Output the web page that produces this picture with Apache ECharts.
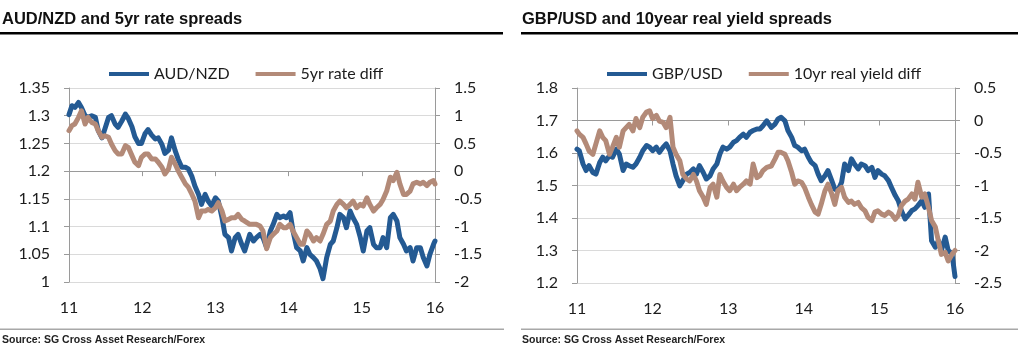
<!DOCTYPE html>
<html>
<head>
<meta charset="utf-8">
<script src="https://cdn.jsdelivr.net/npm/echarts@6/dist/echarts.min.js"></script>
<style>
html,body{margin:0;padding:0;background:#fff;}
#c{width:1027px;height:360px;}
</style>
</head>
<body>
<div id="c"></div>
<script>
// ---------- Left chart: AUD/NZD and 5yr rate spreads (x in years, 11 = 2011) ----------
const tLeft = [11.00,11.04,11.08,11.13,11.17,11.22,11.26,11.31,11.36,11.40,11.45,11.49,11.54,11.58,11.63,11.67,11.72,11.77,11.81,11.86,11.90,11.95,11.99,12.04,12.08,12.13,12.18,12.22,12.27,12.31,12.36,12.40,12.45,12.49,12.54,12.59,12.63,12.68,12.72,12.77,12.81,12.86,12.90,12.95,13.00,13.04,13.09,13.13,13.18,13.22,13.27,13.31,13.36,13.40,
13.47,13.52,13.56,13.61,13.65,13.70,13.75,13.79,13.84,13.88,13.93,13.97,14.02,14.06,14.11,14.16,14.20,14.25,14.29,14.34,14.38,14.43,14.47,14.52,14.57,14.61,14.66,14.70,14.75,14.79,14.84,14.88,14.93,14.98,15.02,15.07,15.11,15.16,15.20,15.25,15.29,15.34,15.39,15.43,15.48,15.52,15.57,15.61,15.66,15.70,15.75,15.80,15.84,15.89,15.93,15.98,16.00];
const audnzd = [1.302,1.318,1.315,1.324,1.315,1.300,1.297,1.300,1.297,1.273,1.260,1.276,1.297,1.300,1.285,1.279,1.290,1.303,1.295,1.280,1.262,1.250,1.250,1.268,1.275,1.265,1.258,1.260,1.248,1.232,1.238,1.260,1.237,1.222,1.207,1.207,1.204,1.190,1.173,1.158,1.140,1.158,1.146,1.137,1.152,1.146,1.116,1.086,1.080,1.056,1.080,1.086,1.068,1.056,
1.086,1.074,1.080,1.086,1.080,1.062,1.092,1.104,1.122,1.116,1.119,1.116,1.125,1.092,1.062,1.056,1.038,1.062,1.050,1.044,1.038,1.024,1.006,1.044,1.068,1.074,1.098,1.122,1.116,1.098,1.128,1.116,1.104,1.080,1.056,1.092,1.098,1.068,1.062,1.062,1.080,1.062,1.116,1.122,1.110,1.080,1.068,1.056,1.062,1.038,1.062,1.062,1.044,1.029,1.050,1.068,1.074];
const rate5y = [0.73,0.82,0.85,0.97,1.09,0.85,0.97,0.88,0.85,0.73,0.61,0.64,0.61,0.49,0.37,0.31,0.31,0.46,0.43,0.28,0.16,0.10,0.25,0.31,0.31,0.22,0.22,0.16,0.07,-0.05,0.04,0.25,0.13,0.01,-0.11,-0.23,-0.29,-0.42,-0.54,-0.84,-0.72,-0.72,-0.69,-0.72,-0.66,-0.57,-0.72,-0.90,-0.87,-0.84,-0.84,-0.78,-0.87,-0.90,
-0.96,-0.96,-0.96,-0.99,-1.08,-1.40,-1.20,-1.14,-1.08,-0.96,-1.02,-1.02,-0.96,-1.08,-1.20,-1.32,-1.32,-1.08,-1.14,-1.26,-1.20,-1.26,-1.14,-0.96,-0.90,-0.72,-0.60,-0.54,-0.60,-0.66,-0.60,-0.54,-0.66,-0.60,-0.63,-0.48,-0.60,-0.72,-0.66,-0.60,-0.51,-0.36,-0.11,-0.17,-0.02,-0.23,-0.42,-0.42,-0.36,-0.23,-0.20,-0.23,-0.20,-0.26,-0.20,-0.17,-0.23];

// ---------- Right chart: GBP/USD and 10year real yield spreads ----------
const tRight = [11.00,11.03,11.08,11.12,11.16,11.21,11.25,11.30,11.34,11.38,11.43,11.47,11.52,11.56,11.61,11.65,11.69,11.74,11.78,11.83,11.87,11.92,11.96,12.00,12.05,12.09,12.14,12.18,12.23,12.27,12.31,12.36,12.40,12.45,12.49,12.54,12.58,12.62,12.67,12.71,12.76,12.80,12.85,12.89,12.93,12.98,13.02,13.07,13.11,13.15,13.20,13.24,13.29,13.33,13.38,13.42,13.46,13.51,
13.53,13.57,13.62,13.66,13.70,13.75,13.79,13.84,13.88,13.92,13.97,14.01,14.06,14.10,14.15,14.19,14.23,14.28,14.32,14.37,14.41,14.45,14.50,14.54,14.59,14.63,14.67,14.72,14.76,14.81,14.85,14.90,14.94,14.98,15.03,15.07,15.12,15.16,15.21,15.25,15.29,15.34,15.38,15.43,15.47,15.51,15.56,15.60,15.65,15.69,15.74,15.78,15.82,15.87,15.91,15.96,16.00];
const gbpusd = [1.612,1.607,1.566,1.546,1.561,1.540,1.535,1.571,1.587,1.576,1.592,1.587,1.612,1.597,1.546,1.566,1.561,1.556,1.566,1.587,1.607,1.623,1.618,1.607,1.618,1.602,1.618,1.628,1.607,1.566,1.530,1.499,1.515,1.535,1.540,1.551,1.535,1.561,1.540,1.520,1.530,1.551,1.566,1.597,1.618,1.612,1.618,1.633,1.638,1.648,1.658,1.648,1.664,1.669,1.674,1.674,1.684,1.699,
1.694,1.679,1.689,1.705,1.710,1.699,1.669,1.648,1.623,1.618,1.607,1.612,1.587,1.571,1.561,1.535,1.515,1.530,1.546,1.515,1.489,1.484,1.510,1.566,1.546,1.582,1.566,1.551,1.566,1.561,1.546,1.556,1.525,1.546,1.535,1.530,1.515,1.494,1.469,1.453,1.423,1.397,1.408,1.423,1.428,1.438,1.453,1.433,1.474,1.330,1.310,1.330,1.300,1.341,1.300,1.290,1.220];
const real10y = [-0.16,-0.21,-0.26,-0.36,-0.47,-0.52,-0.36,-0.16,-0.26,-0.31,-0.52,-0.41,-0.26,-0.41,-0.16,-0.11,-0.06,-0.16,0.03,-0.11,0.05,0.13,0.15,0.03,0.08,-0.01,-0.03,-0.11,0.05,-0.41,-0.52,-0.62,-0.83,-0.90,-0.93,-0.83,-0.93,-1.08,-1.18,-1.29,-1.03,-0.98,-1.18,-0.83,-0.93,-1.03,-1.08,-0.98,-1.08,-1.03,-0.98,-0.93,-0.98,-0.67,-0.88,-0.85,-0.77,-0.72,
-0.75,-0.70,-0.59,-0.49,-0.49,-0.52,-0.62,-0.80,-0.98,-0.93,-0.95,-1.03,-1.18,-1.29,-1.41,-1.44,-1.29,-1.08,-0.98,-1.13,-1.29,-1.08,-1.03,-1.18,-1.26,-1.24,-1.29,-1.26,-1.34,-1.39,-1.49,-1.54,-1.41,-1.39,-1.44,-1.46,-1.41,-1.44,-1.52,-1.46,-1.31,-1.24,-1.21,-1.13,-1.21,-0.95,-1.18,-1.13,-1.34,-1.54,-1.64,-1.85,-2.06,-2.03,-2.16,-2.06,-2.00];

const xTicks = ['11','12','13','14','15','16'];

const BLUE = '#245a93';
const BROWN = '#b38a78';
const LBL = '#1c1c1c';
const FONT = 'Lato';

const pair = (xs, ys) => xs.map((x, i) => [x, ys[i]]);
const fmt = v => String(Math.round(v * 100) / 100);

function xAx(gi){
  return {
    type:'value', gridIndex:gi, min:11, max:16, interval:1,
    axisLine:{show:true, lineStyle:{color:'#9a9a9a', width:1}},
    axisTick:{show:true, length:5, lineStyle:{color:'#9a9a9a'}},
    splitLine:{show:false},
    axisLabel:{color:LBL, fontFamily:FONT, fontSize:16, margin:18,
      formatter: v => xTicks[Math.round(v) - 11]}
  };
}
function yAx(gi, pos, min, max, step, grid){
  return {
    type:'value', gridIndex:gi, position:pos, min:min, max:max, interval:step,
    axisLine:{show:true, lineStyle:{color:'#9a9a9a', width:1}},
    axisTick:{show:true, length:5, lineStyle:{color:'#9a9a9a'}},
    splitLine:{show:grid, lineStyle:{color:'#dadada', width:1}},
    axisLabel:{color:LBL, fontFamily:FONT, fontSize:16, margin:19, formatter:fmt}
  };
}

const lineS = (name, xi, yi, data, col) => ({
  name:name, type:'line', xAxisIndex:xi, yAxisIndex:yi, data:data, showSymbol:false, color:col,
  lineStyle:{width:5, color:col, join:'round', cap:'round'}
});

const chart = echarts.init(document.getElementById('c'));
chart.setOption({
  animation:false,
  backgroundColor:'#fff',
  grid:[
    {left:69, top:88, width:366, height:194},
    {left:577, top:88, width:378, height:195}
  ],
  xAxis:[xAx(0), xAx(1)],
  yAxis:[
    yAx(0,'left',1,1.35,0.05,true),
    yAx(0,'right',-2,1.5,0.5,false),
    yAx(1,'left',1.2,1.8,0.1,true),
    yAx(1,'right',-2.5,0.5,0.5,false)
  ],
  legend:[
    {data:['AUD/NZD','5yr rate diff'], left:104, top:61, icon:'rect', itemWidth:40, itemHeight:4, itemGap:26,
     textStyle:{color:LBL, fontFamily:FONT, fontSize:16}},
    {data:['GBP/USD','10yr real yield diff'], left:602, top:61, icon:'rect', itemWidth:40, itemHeight:4, itemGap:26,
     textStyle:{color:LBL, fontFamily:FONT, fontSize:16}}
  ],
  series:[
    lineS('AUD/NZD', 0, 0, pair(tLeft, audnzd), BLUE),
    lineS('5yr rate diff', 0, 1, pair(tLeft, rate5y), BROWN),
    lineS('GBP/USD', 1, 2, pair(tRight, gbpusd), BLUE),
    lineS('10yr real yield diff', 1, 3, pair(tRight, real10y), BROWN)
  ],
  graphic:[
    {type:'text', left:2, top:11, style:{text:'AUD/NZD and 5yr rate spreads', font:'bold 16.5px "Liberation Sans", Arial, sans-serif', fill:'#111'}},
    {type:'text', left:522, top:11, style:{text:'GBP/USD and 10year real yield spreads', font:'bold 16.5px "Liberation Sans", Arial, sans-serif', fill:'#111'}},
    {type:'rect', shape:{x:0, y:32, width:503, height:2.5}, style:{fill:'#000'}},
    {type:'rect', shape:{x:521, y:32, width:497, height:2.5}, style:{fill:'#000'}},
    {type:'rect', shape:{x:0, y:328.5, width:504, height:1.5}, style:{fill:'#a8a8a8'}},
    {type:'rect', shape:{x:521, y:328.5, width:497, height:1.5}, style:{fill:'#a8a8a8'}},
    {type:'text', left:2, top:335, style:{text:'Source: SG Cross Asset Research/Forex', font:'bold 10.5px "Liberation Sans", Arial, sans-serif', fill:'#222'}},
    {type:'text', left:522, top:335, style:{text:'Source: SG Cross Asset Research/Forex', font:'bold 10.5px "Liberation Sans", Arial, sans-serif', fill:'#222'}}
  ]
});
</script>
</body>
</html>
